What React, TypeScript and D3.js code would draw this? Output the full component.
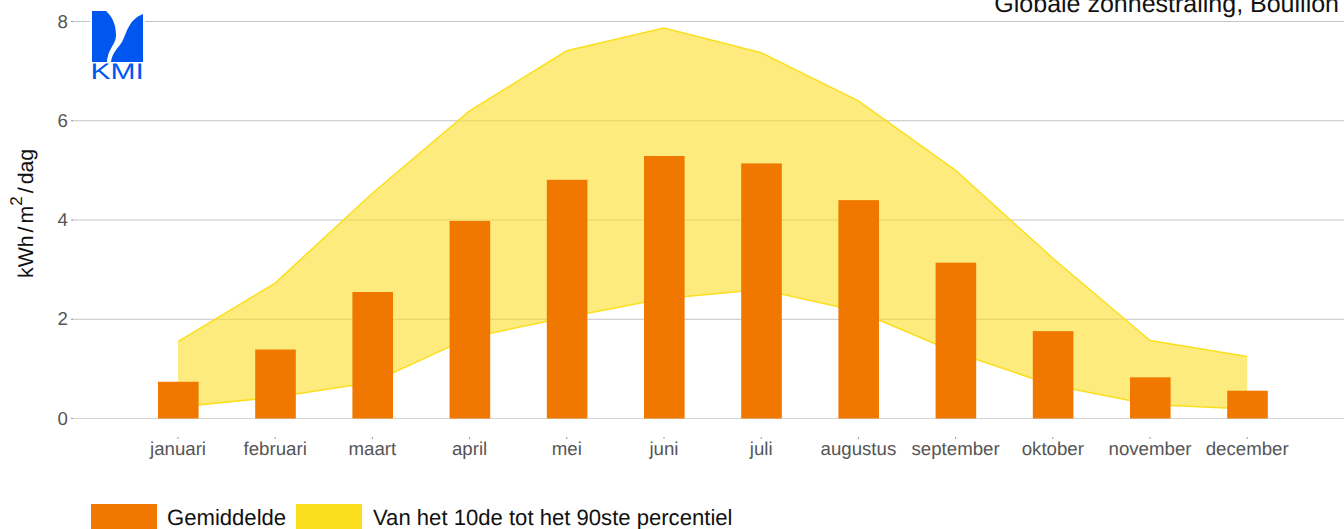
import React from "react";
import * as d3 from "d3";

const months = ["januari","februari","maart","april","mei","juni","juli","augustus","september","oktober","november","december"];
const mean = [0.74,1.39,2.55,3.98,4.81,5.29,5.14,4.4,3.14,1.76,0.83,0.56];
const p90 = [1.55,2.73,4.54,6.2,7.41,7.87,7.37,6.4,5.0,3.23,1.57,1.25];
const p10 = [0.23,0.43,0.73,1.63,2.04,2.42,2.6,2.16,1.33,0.67,0.28,0.19];
const yTicks = [0,2,4,6,8];
const legendItems = ["Gemiddelde","Van het 10de tot het 90ste percentiel"];

const FONT = "'Liberation Sans', Arial, sans-serif";
const ORANGE = "#f07700";
const YELLOW = "#fbdf1f";

export default function App() {
  const x = d3.scaleBand<string>().domain(months).range([129.4, 1295.8]);
  const y = d3.scaleLinear().domain([0, 8]).range([418.5, 21.5]);
  const cx = (m: string) => (x(m) as number) + x.bandwidth() / 2;
  const band = d3.area<number>()
    .x((_, i) => cx(months[i]))
    .y0((_, i) => y(p10[i]))
    .y1((d) => y(d));
  const top = d3.line<number>().x((_, i) => cx(months[i])).y((d) => y(d));
  const barW = 40.6;
  return (
    <svg width={1344} height={529} style={{ position: "fixed", left: 0, top: 0, display: "block", background: "#fff" }} fontFamily={FONT} textRendering="geometricPrecision">
      {yTicks.map((t) => (
        <g key={t}>
          <line x1={72} x2={1344} y1={y(t)} y2={y(t)} stroke={t === 0 ? "#d4d4d4" : "#c4c4c4"} strokeWidth={1} />
          <line x1={71} x2={73} y1={y(t)} y2={y(t)} stroke="#999" />
          <text x={68} y={y(t) + 6} textAnchor="end" fontSize={18.67} fill="#555">{t}</text>
        </g>
      ))}
      <path d={band(p90) as string} fill={YELLOW} fillOpacity={0.58} />
      <path d={top(p90) as string} fill="none" stroke={YELLOW} strokeWidth={1.5} />
      <path d={top(p10) as string} fill="none" stroke={YELLOW} strokeWidth={1.5} />
      {months.map((m, i) => (
        <rect key={m} x={cx(m) - barW / 2 + 0.3} y={y(mean[i])} width={barW} height={y(0) - y(mean[i])} fill={ORANGE} />
      ))}
      {months.map((m) => (
        <g key={m}>
          <line x1={cx(m)} x2={cx(m)} y1={437} y2={439} stroke="#999" />
          <text x={cx(m)} y={455} textAnchor="middle" fontSize={18.67} fill="#555">{m}</text>
        </g>
      ))}
      <text transform="translate(33,278) rotate(-90)" fontSize={21.3} fill="#111">
        kWh<tspan dx={3}>/</tspan><tspan dx={3}>m</tspan><tspan dy={-11} fontSize={17}>2</tspan><tspan dy={11} dx={3}>/</tspan><tspan dx={3}>dag</tspan>
      </text>
      <text x={1339} y={12} textAnchor="end" fontSize={25} fill="#111">Globale zonnestraling, Bouillon</text>
      <rect x={90} y={8} width={55} height={75} fill="#fff" />
      <g>
        <path d="M92 11 L106 11 C113 17 116 26 116 35 C116 45 108 48 107 62 L92 62 Z" fill="#0057f0" />
        <path d="M143 14 L143 62 L111 62 C112 53 118 48 122 42 C127 33 128 20 143 14 Z" fill="#0057f0" />
        <text x={90.5} y={79} fontSize={22.5} fill="#0057f0" textLength={53.5} lengthAdjust="spacingAndGlyphs">KMI</text>
      </g>
      <rect x={91} y={504} width={66} height={25} fill={ORANGE} />
      <text x={167} y={525} fontSize={22.1} fill="#111">{legendItems[0]}</text>
      <rect x={296} y={504} width={66} height={25} fill={YELLOW} />
      <text x={373} y={525} fontSize={22.1} fill="#111">{legendItems[1]}</text>
    </svg>
  );
}
